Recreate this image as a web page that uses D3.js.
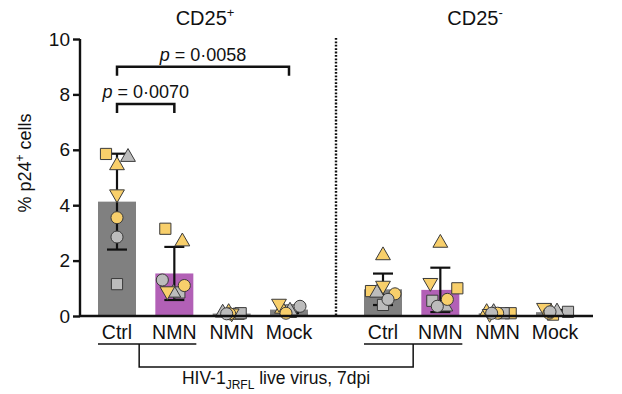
<!DOCTYPE html>
<html>
<head>
<meta charset="utf-8">
<script src="https://cdn.jsdelivr.net/npm/d3@7"></script>
<style>
  body { margin: 0; background: #fff; }
  text { font-family: "Liberation Sans", Arial, sans-serif; fill: #111; }
</style>
</head>
<body>
<script>
// conditions shown under each panel
const conditions = ["Ctrl", "NMN", "NMN2", "Mock"];
const conditionLabels = ["Ctrl", "NMN", "NMN", "Mock"];
const yTicks = [0, 2, 4, 6, 8, 10];

// 7 donors, one symbol each
const donorShape = ["square", "square", "up", "up", "down", "circle", "circle"];
const donorFill = ["#f8cf6b", "#bcbcbc", "#f8cf6b", "#bcbcbc", "#f8cf6b", "#f8cf6b", "#bcbcbc"];

// % p24+ per donor, CD25+ cells
const posCtrl = [5.85, 1.15, 5.4, 5.7, 4.4, 3.55, 2.85];
const posNMN = [3.15, 0.85, 2.65, 0.8, 0.9, 1.1, 1.3];
const posNMN2 = [0.08, 0.1, 0.1, 0.08, 0.1, 0.08, 0.08];
const posMock = [0.15, 0.2, 0.22, 0.15, 0.45, 0.1, 0.35];
// CD25- cells
const negCtrl = [0.9, 0.4, 2.15, 0.8, 1.1, 0.8, 0.6];
const negNMN = [1.0, 0.55, 2.6, 0.3, 1.2, 0.6, 0.35];
const negNMN2 = [0.1, 0.1, 0.1, 0.1, 0.08, 0.1, 0.1];
const negMock = [0.05, 0.15, 0.1, 0.12, 0.3, 0.1, 0.15];

// horizontal scatter of the dots (px)
const posJitter = [[-11, 0, 0, 11, 0, 0, 0], [-9, 5, 8, -1, -7, 10, -12], [7, 9, -3, -9, 0, -2, -5], [2, 2, -7, 1, -10, -3, 11]];
const negJitter = [[-12, 0, 0, -6, 0, 12, 5], [17, -8, 0, 5, -10, 7, -3], [13, 6, -11, -4, -8, 0, -6], [-2, 13, -4, 2, -11, -6, -5]];

const barFill = ["#808080", "#b260b6", "#808080", "#808080"];

const w = 622, h = 394;
const svg = d3.select("body").append("svg").attr("width", w).attr("height", h);

const y = d3.scaleLinear().domain([0, 10]).range([316, 39]);
const xPos = d3.scalePoint().domain(conditions).range([117, 289]);
const xNeg = d3.scalePoint().domain(conditions).range([383, 555]);
const barW = 38;

const panels = [
  { x: xPos, values: [posCtrl, posNMN, posNMN2, posMock], jitter: posJitter },
  { x: xNeg, values: [negCtrl, negNMN, negNMN2, negMock], jitter: negJitter }
];

const symbolFor = s => s === "square" ? d3.symbolSquare : s === "circle" ? d3.symbolCircle : d3.symbolTriangle;
const sizeFor = s => s === "square" ? 125 : s === "circle" ? 115 : 95;

panels.forEach(p => {
  const g = svg.append("g");
  conditions.forEach((c, i) => {
    const vals = p.values[i];
    const m = d3.mean(vals), sd = d3.deviation(vals);
    const cx = p.x(c);
    g.append("rect")
      .attr("x", cx - barW / 2).attr("y", y(m))
      .attr("width", barW).attr("height", y(0) - y(m))
      .attr("fill", barFill[i]);
    // error bar
    const lo = Math.max(0, m - sd), hi = m + sd;
    g.append("line").attr("x1", cx).attr("x2", cx).attr("y1", y(lo)).attr("y2", y(hi))
      .attr("stroke", "#111").attr("stroke-width", 2.2);
    [lo, hi].forEach(v => g.append("line")
      .attr("x1", cx - 10).attr("x2", cx + 10).attr("y1", y(v)).attr("y2", y(v))
      .attr("stroke", "#111").attr("stroke-width", 2.2));
    // dots
    vals.forEach((v, k) => {
      const shape = donorShape[k];
      g.append("path")
        .attr("d", d3.symbol().type(symbolFor(shape)).size(sizeFor(shape))())
        .attr("transform", `translate(${cx + p.jitter[i][k]},${y(v) - (shape === "up" ? 1 : 0)})` + (shape === "down" ? " rotate(180)" : ""))
        .attr("fill", donorFill[k])
        .attr("stroke", "#3a3a3a").attr("stroke-width", 1);
    });
  });
});

// axes
svg.append("line").attr("x1", 80).attr("x2", 593).attr("y1", y(0)).attr("y2", y(0))
  .attr("stroke", "#111").attr("stroke-width", 2.4);
const yAxis = svg.append("g").attr("transform", "translate(80,0)")
  .call(d3.axisLeft(y).tickValues(yTicks).tickSize(7).tickPadding(3));
yAxis.select(".domain").attr("stroke", "#111").attr("stroke-width", 2.4).attr("d", `M0,${y(10)}V${y(0)}`);
yAxis.selectAll(".tick line").attr("stroke", "#111").attr("stroke-width", 2.4);
yAxis.selectAll(".tick text").attr("font-size", 19).attr("font-family", "Liberation Sans, Arial, sans-serif").attr("fill", "#111");

// y title
const yt = svg.append("text").attr("transform", `translate(31,${163}) rotate(-90)`)
  .attr("text-anchor", "middle").attr("font-size", 18);
yt.append("tspan").text("% p24");
yt.append("tspan").text("+").attr("font-size", 12).attr("dy", -7);
yt.append("tspan").text(" cells").attr("dy", 7);

// divider
svg.append("line").attr("x1", 336).attr("x2", 336).attr("y1", 38).attr("y2", y(0))
  .attr("stroke", "#111").attr("stroke-width", 2.4).attr("stroke-dasharray", "1.8,1.6");

// panel titles
[["CD25", "+", 205], ["CD25", "-", 475]].forEach(([t, s, cx]) => {
  const tt = svg.append("text").attr("x", cx).attr("y", 25).attr("text-anchor", "middle").attr("font-size", 20);
  tt.append("tspan").text(t);
  tt.append("tspan").text(s).attr("font-size", 13).attr("dy", -8);
});

// x labels
panels.forEach(p => conditions.forEach((c, i) => {
  svg.append("text").attr("x", p.x(c)).attr("y", 339).attr("text-anchor", "middle")
    .attr("font-size", 19.5).text(conditionLabels[i]);
}));

// group underline and bracket
const lineAttr = sel => sel.attr("stroke", "#111").attr("stroke-width", 1.5).attr("fill", "none");
const spans = panels.map(p => [p.x("Ctrl") - 19, p.x("NMN") + 22]);
spans.forEach(s => svg.append("line").attr("x1", s[0]).attr("x2", s[1]).attr("y1", 344).attr("y2", 344).call(lineAttr));
const m0 = (spans[0][0] + spans[0][1]) / 2 - 8, m1 = (spans[1][0] + spans[1][1]) / 2;
svg.append("path").attr("d", `M${m0},344V367H${m1}V344`).call(lineAttr);
const bt = svg.append("text").attr("x", 276).attr("y", 384).attr("text-anchor", "middle").attr("font-size", 17.5);
bt.append("tspan").text("HIV-1");
bt.append("tspan").text("JRFL").attr("font-size", 12).attr("dy", 5);
bt.append("tspan").text(" live virus, 7dpi").attr("dy", -5);

// significance
const sig = [
  { a: "Ctrl", b: "NMN", p: "0·0070", yv: 7.65 },
  { a: "Ctrl", b: "Mock", p: "0·0058", yv: 9.0 }
];
sig.forEach(s => {
  const x1 = xPos(s.a), x2 = xPos(s.b), yy = y(s.yv);
  svg.append("path").attr("d", `M${x1},${yy + 9}V${yy}H${x2}V${yy + 9}`)
    .attr("stroke", "#111").attr("stroke-width", 2.5).attr("fill", "none");
  const t = svg.append("text").attr("x", (x1 + x2) / 2).attr("y", yy - 6).attr("text-anchor", "middle").attr("font-size", 18);
  t.append("tspan").text("p").attr("font-style", "italic");
  t.append("tspan").text(" = " + s.p);
});
</script>
</body>
</html>
